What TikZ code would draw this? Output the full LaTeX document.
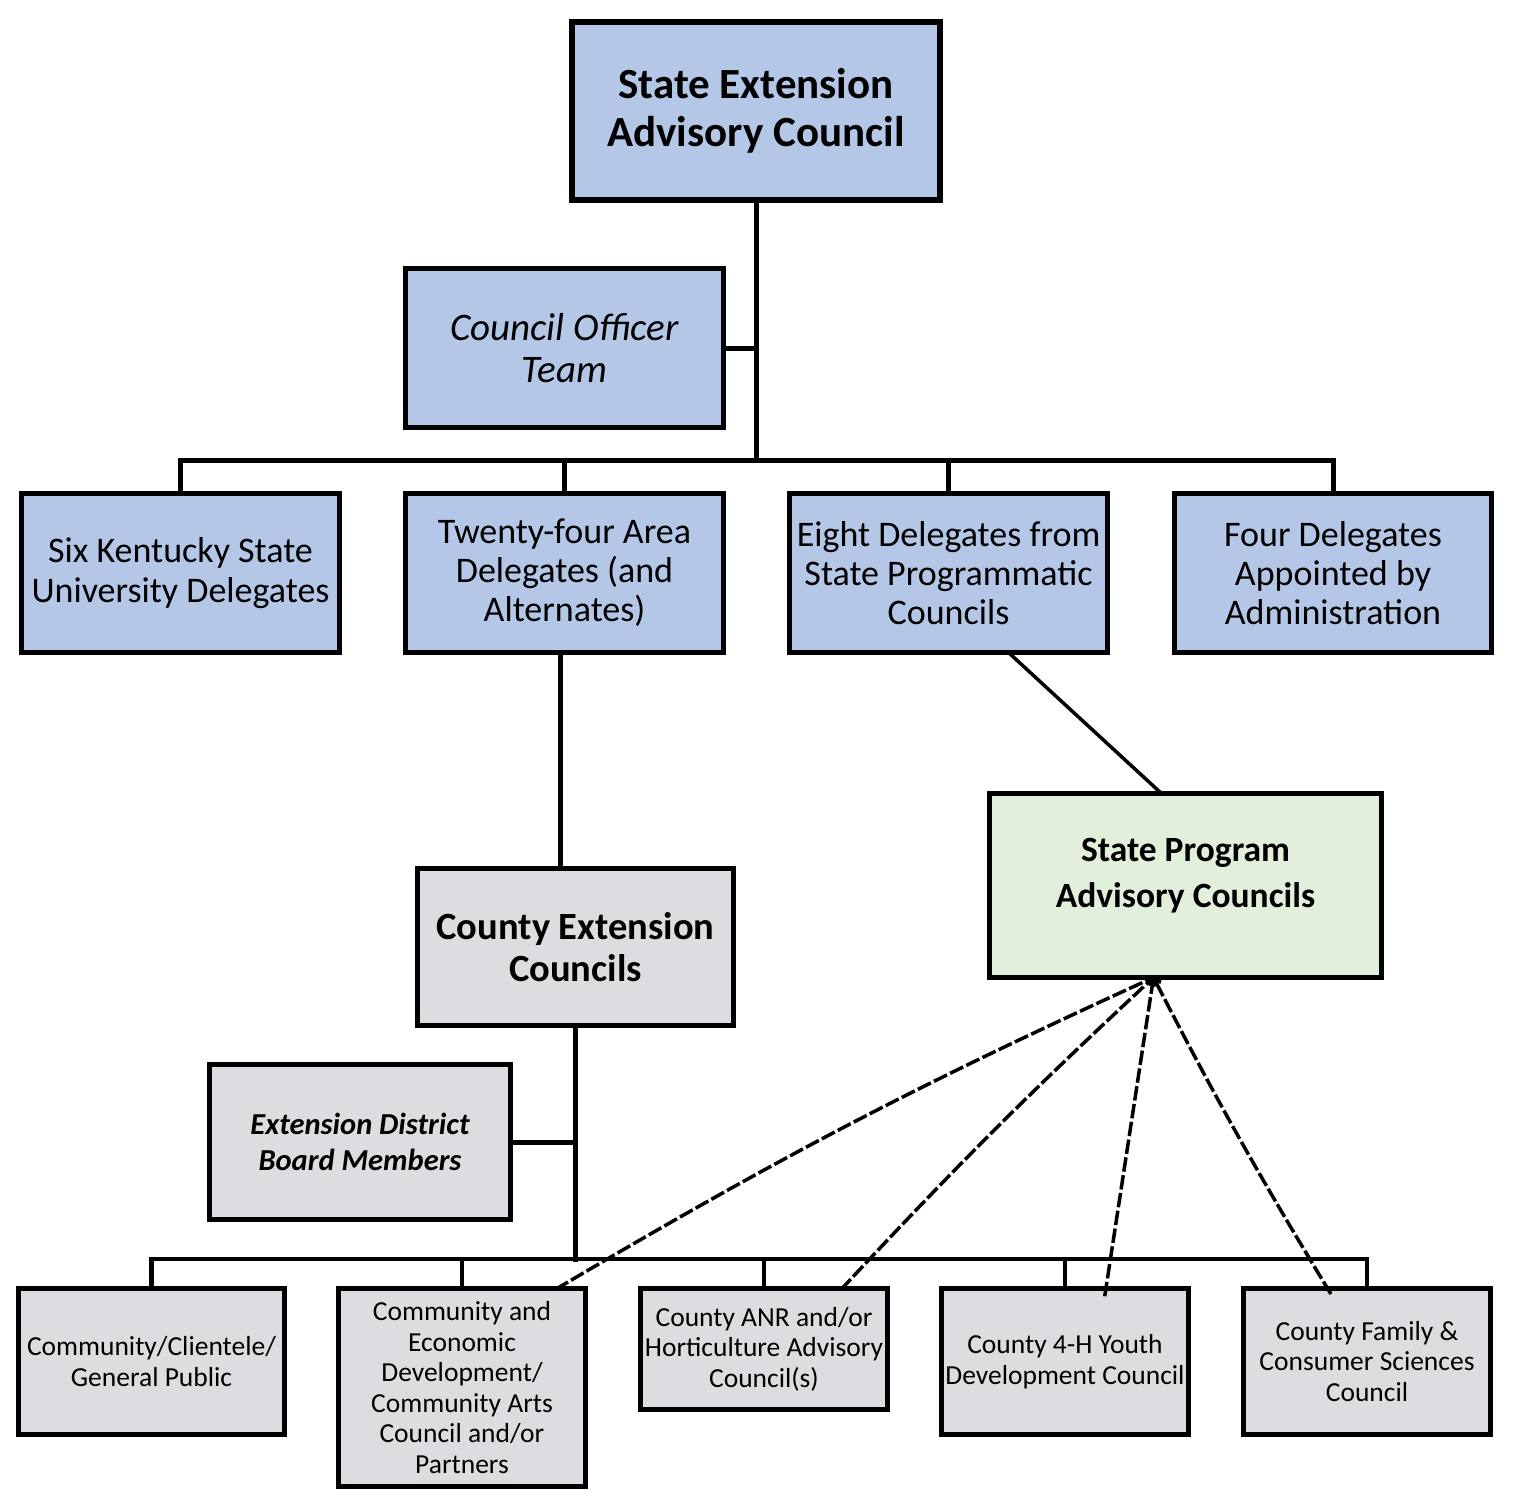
\documentclass[tikz,border=0pt]{standalone}
\usepackage{fontspec}
\setmainfont{Carlito}
\usetikzlibrary{arrows.meta}
\definecolor{boxblue}{RGB}{180,199,231}
\definecolor{boxgray}{RGB}{220,221,225}
\definecolor{boxgreen}{RGB}{226,239,218}
\begin{document}
\begin{tikzpicture}[x=1pt,y=-1pt,line cap=rect,line join=miter,
  box/.style={draw,line width=5pt,inner sep=0pt,outer sep=0pt,align=center,text=black},
  blue/.style={box,fill=boxblue},
  gray/.style={box,fill=boxgray},
  low/.style={gray,line width=4.5pt,font=\fontsize{27.5}{30.6}\selectfont},
  link/.style={line width=5pt},
  dashlink/.style={line width=3.5pt,dash pattern=on 11pt off 7pt,-{Straight Barb[length=5pt,width=9pt]}}]
\useasboundingbox (0,0) rectangle (1526,1506);
\node [blue,line width=6pt,minimum width=368pt,minimum height=178pt,font=\fontsize{43}{48}\selectfont\bfseries] (sea) at (756,111) {State Extension\\Advisory Council};
\node [blue,minimum width=318pt,minimum height=159pt,font=\fontsize{39}{42}\selectfont\itshape] (officer) at (564.5,348) {Council Officer\\Team};
\node [blue,minimum width=318pt,minimum height=159pt,font=\fontsize{36}{40}\selectfont] (six) at (180.5,573) {Six Kentucky State\\University Delegates};
\node [blue,minimum width=318pt,minimum height=159pt,font=\fontsize{36}{39}\selectfont] (twenty) at (564.5,573) {Twenty-four Area\\Delegates (and\\Alternates)};
\node [blue,minimum width=318pt,minimum height=159pt,font=\fontsize{36}{39}\selectfont] (eight) at (948.5,573) {Eight Delegates from\\State Programmatic\\Councils};
\node [blue,minimum width=317pt,minimum height=159pt,font=\fontsize{36}{39}\selectfont] (four) at (1333,573) {Four Delegates\\Appointed by\\Administration};
\node [gray,minimum width=316pt,minimum height=157pt,font=\fontsize{38.5}{42}\selectfont\bfseries] (cext) at (575.5,947) {County Extension\\Councils};
\node [box,fill=boxgreen,minimum width=392pt,minimum height=184pt,text depth=25pt,font=\fontsize{35.5}{46}\selectfont\bfseries] (spac) at (1185.5,885.5) {State Program\\Advisory Councils};
\node [gray,minimum width=301pt,minimum height=155pt,font=\fontsize{30.5}{36}\selectfont\bfseries\itshape] (district) at (360,1142) {Extension District\\Board Members};
\node [low,minimum width=266pt,minimum height=146pt] (public) at (151.5,1361.5) {Community/Clientele/\\General Public};
\node [low,minimum width=247pt,minimum height=198pt] (ced) at (462,1387.5) {Community and\\Economic\\Development/\\Community Arts\\Council and/or\\Partners};
\node [low,minimum width=247pt,minimum height=121pt] (anr) at (764,1349) {County ANR and/or\\Horticulture Advisory\\Council(s)};
\node [low,minimum width=247pt,minimum height=146pt] (youth) at (1065,1361.5) {County 4-H Youth\\Development Council};
\node [low,minimum width=247pt,minimum height=146pt] (fcs) at (1367,1361.5) {County Family \&\\Consumer Sciences\\Council};
\coordinate (bus) at (756,460);
\coordinate (lowbus) at (575.5,1259);
\coordinate (hub) at ([xshift=-32pt]spac.south);
\draw [link] (sea.south) -- (bus);
\draw [link] (officer.east) -- (officer.east -| sea.south);
\draw [link] (six.north) |- (bus) -| (four.north);
\draw [link] (twenty.north) -- (twenty.north |- bus);
\draw [link] (eight.north) -- (eight.north |- bus);
\draw [link] ([xshift=-4.5pt]twenty.south) -- ([xshift=-4.5pt]twenty.south |- cext.north);
\draw [line width=3.5pt] ([xshift=60pt]eight.south) -- ([xshift=-24pt]spac.north);
\draw [link] (cext.south) -- (lowbus);
\draw [link] (district.east) -- (district.east -| cext.south);
\draw [line width=4.5pt] (public.north) |- (lowbus) -| (fcs.north);
\draw [line width=4.5pt] (ced.north) -- (ced.north |- lowbus);
\draw [line width=4.5pt] (anr.north) -- (anr.north |- lowbus);
\draw [line width=4.5pt] (youth.north) -- (youth.north |- lowbus);
\draw [dashlink] ([xshift=95pt]ced.north) to[bend left=3] (hub);
\draw [dashlink] ([xshift=78pt]anr.north) to[bend left=2] (hub);
\draw [dashlink] ([xshift=40pt,yshift=-6pt]youth.north) -- (hub);
\draw [dashlink] ([xshift=-37pt,yshift=-4pt]fcs.north) to[bend left=2] (hub);
\end{tikzpicture}
\end{document}
